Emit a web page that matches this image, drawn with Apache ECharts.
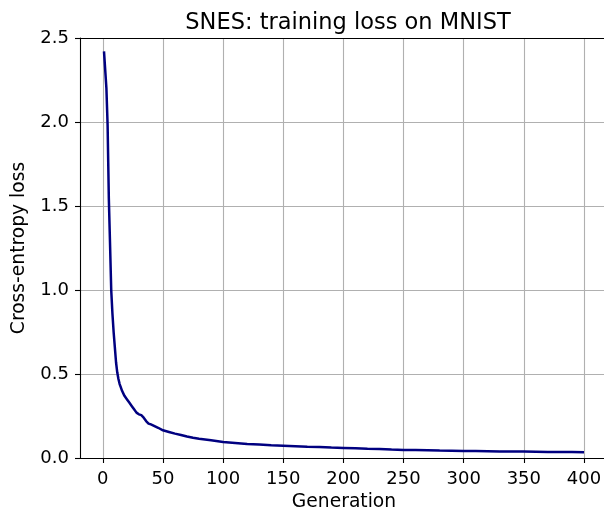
<!DOCTYPE html>
<html>
<head>
<meta charset="utf-8">
<script src="https://cdn.jsdelivr.net/npm/echarts@6/dist/echarts.min.js"></script>
<style>
  html, body { margin: 0; padding: 0; background: #fff; }
  #chart { width: 604px; height: 512px; }
</style>
</head>
<body>
<div id="chart"></div>
<script>
// values
const generations = [1, 2, 3, 4, 5, 6, 7, 8, 9, 10, 11, 12, 13, 14, 15, 16, 18, 20, 22, 24, 26, 28, 30, 32, 34, 36, 38, 40, 43, 46, 50, 55, 60, 65, 70, 75, 80, 90, 100, 110, 120, 130, 140, 150, 160, 170, 180, 190, 200, 210, 220, 230, 240, 250, 260, 270, 280, 290, 300, 310, 320, 330, 340, 350, 360, 370, 380, 390, 400]
const losses = [2.42, 2.41, 2.2, 1.98, 1.55, 1.28, 1.0, 0.86, 0.75, 0.66, 0.57, 0.51, 0.47, 0.44, 0.42, 0.4, 0.37, 0.35, 0.33, 0.31, 0.29, 0.27, 0.26, 0.255, 0.24, 0.22, 0.205, 0.2, 0.19, 0.18, 0.165, 0.155, 0.145, 0.137, 0.128, 0.12, 0.114, 0.105, 0.095, 0.09, 0.084, 0.08, 0.076, 0.073, 0.07, 0.067, 0.065, 0.062, 0.06, 0.058, 0.055, 0.053, 0.05, 0.048, 0.047, 0.046, 0.044, 0.043, 0.042, 0.041, 0.04, 0.039, 0.038, 0.038, 0.037, 0.036, 0.035, 0.035, 0.034]
const xTicks = [0, 50, 100, 150, 200, 250, 300, 350, 400]

const font = 'DejaVu Sans'
const points = generations.map((g, i) => [g, losses[i]])

const chart = echarts.init(document.getElementById('chart'), null, {renderer: 'canvas'})
chart.setOption({
  animation: false,
  textStyle: {fontFamily: font},
  title: {
    text: 'SNES: training loss on MNIST',
    left: 343,
    textAlign: 'center',
    top: 7,
    textStyle: {fontFamily: font, fontSize: 22.5, fontWeight: 'normal', color: '#000'}
  },
  grid: {
    left: 80,
    top: 38,
    width: 528,
    height: 420,
    containLabel: false,
    outerBoundsMode: 'none'
  },
  xAxis: [{
    type: 'value',
    min: -18.95,
    max: 419.95,
    name: 'Generation',
    nameLocation: 'middle',
    nameGap: 35,
    nameTextStyle: {fontFamily: font, fontSize: 18.7, color: '#000'},
    axisLine: {show: true, onZero: false, lineStyle: {color: '#000', width: 1.1}},
    axisTick: {show: true, length: 5, customValues: xTicks, lineStyle: {color: '#000', width: 1.1}},
    axisLabel: {customValues: xTicks, margin: 12, fontFamily: font, fontSize: 18, color: '#000'},
    splitLine: {show: true, lineStyle: {color: '#b0b0b0', width: 1.1}}
  }, {
    // top spine only
    type: 'value',
    position: 'top',
    min: -18.95,
    max: 419.95,
    axisLine: {show: true, onZero: false, lineStyle: {color: '#000', width: 1.1}},
    axisTick: {show: false},
    axisLabel: {show: false},
    splitLine: {show: false}
  }],
  yAxis: {
    type: 'value',
    min: 0,
    max: 2.5,
    interval: 0.5,
    name: 'Cross-entropy loss',
    nameLocation: 'middle',
    nameGap: 51,
    nameTextStyle: {fontFamily: font, fontSize: 18.7, color: '#000'},
    axisLine: {show: true, onZero: false, lineStyle: {color: '#000', width: 1.1}},
    axisTick: {show: true, length: 5, lineStyle: {color: '#000', width: 1.1}},
    axisLabel: {margin: 11, fontFamily: font, fontSize: 18, color: '#000', formatter: v => v.toFixed(1)},
    splitLine: {show: true, lineStyle: {color: '#b0b0b0', width: 1.1}}
  },
  series: [{
    type: 'line',
    data: points,
    xAxisIndex: 0,
    showSymbol: false,
    smooth: false,
    lineStyle: {color: '#000080', width: 2.5},
    clip: true
  }]
})
</script>
</body>
</html>
